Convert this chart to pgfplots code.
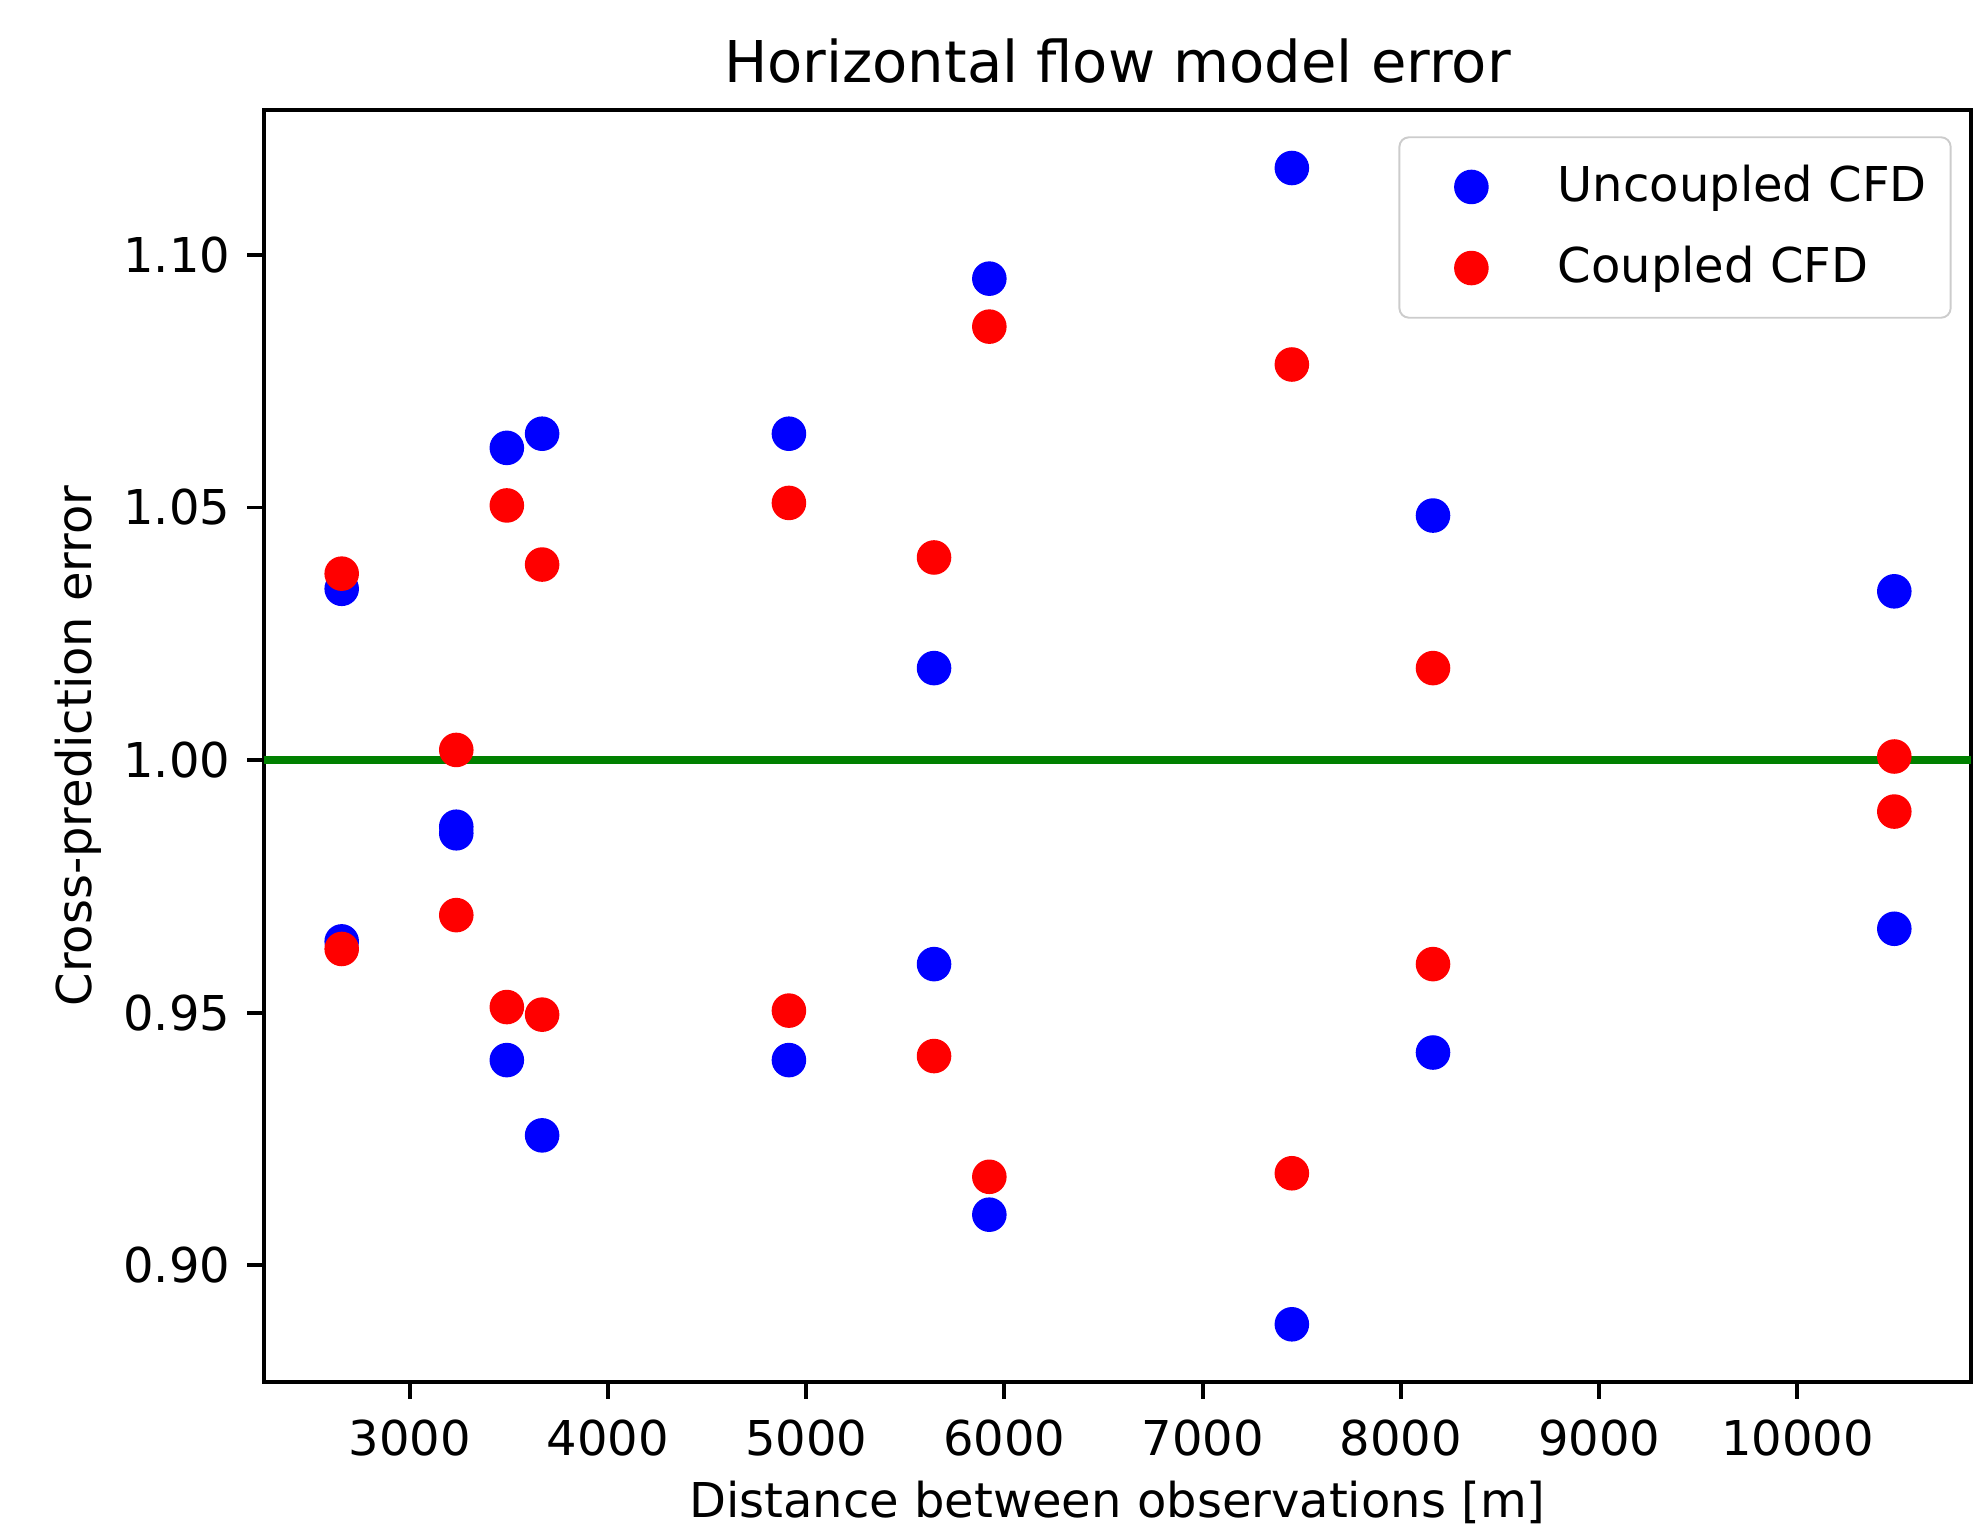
\documentclass[border=0pt]{standalone}
\usepackage{fontspec}
\setmainfont{DejaVu Sans}
\usepackage{pgfplots}
\pgfplotsset{compat=1.18}
\definecolor{mplgreen}{RGB}{0,128,0}
\begin{document}
\begin{tikzpicture}
\begin{axis}[
scale only axis,
width=355.6pt, height=265pt,
xmin=2265, xmax=10875,
ymin=0.8769, ymax=1.1287,
xtick={3000,4000,...,10000},
ytick={0.90,0.95,1.00,1.05,1.10},
scaled ticks=false,
/pgf/number format/assume math mode=true,
x tick label style={/pgf/number format/1000 sep={}, yshift=-0.9pt},
y tick label style={/pgf/number format/fixed, /pgf/number format/fixed zerofill,
  /pgf/number format/precision=2},
tick align=outside, tick pos=left,
major tick length=3.5pt,
every tick/.style={black, line width=0.8pt},
axis line style={line width=0.8pt},
tick label style={font=\fontsize{10}{12}\selectfont},
label style={font=\fontsize{10}{12}\selectfont},
every axis title shift=0pt,
title={Horizontal flow model error},
title style={font=\fontsize{12}{14}\selectfont,
  at={([yshift=5.8pt]axis description cs:0.5,1)}, anchor=base},
xlabel={Distance between observations [m]},
xlabel style={at={([yshift=-28.3pt]axis description cs:0.5,0)}, anchor=base},
ylabel={Cross-prediction error},
ylabel style={at={([xshift=-36pt]axis description cs:0,0.5)}, anchor=base},
legend cell align=left,
legend style={at={(axis description cs:1,1)}, anchor=north east,
  xshift=-4pt, yshift=-5.5pt, draw=black!20, rounded corners=2pt,
  font=\fontsize{10}{12}\selectfont, row sep=3.8pt, inner xsep=3pt, inner ysep=3.8pt},
legend image code/.code={\path[draw=none] (0pt,0pt) -- (28pt,0pt);
  \draw[only marks] plot coordinates {(12pt,0pt)};},
]
\addplot[only marks, mark=*, mark size=3.4pt, color=blue] coordinates {
(2657,1.0339)(2657,0.9641)(3235,0.9868)(3235,0.9855)(3490,1.0618)(3490,0.9406)
(3668,1.0646)(3668,0.9257)(4913,1.0646)(4913,0.9406)(5645,1.0182)(5645,0.9596)
(5924,1.0953)(5924,0.9100)(7450,1.1172)(7450,0.8883)(8162,1.0484)(8162,0.9421)
(10489,1.0334)(10489,0.9666)};
\addlegendentry{Uncoupled CFD}
\addplot[only marks, mark=*, mark size=3.4pt, color=red] coordinates {
(2657,1.0369)(2657,0.9626)(3235,1.0020)(3235,0.9693)(3490,1.0504)(3490,0.9511)
(3668,1.0387)(3668,0.9496)(4913,1.0509)(4913,0.9504)(5645,1.0401)(5645,0.9414)
(5924,1.0858)(5924,0.9175)(7450,1.0783)(7450,0.9182)(8162,1.0182)(8162,0.9596)
(10489,1.0007)(10489,0.9898)};
\addlegendentry{Coupled CFD}
\addplot[mplgreen, line width=1.5pt, forget plot] coordinates {(2265,1)(10875,1)};
\coordinate (SW) at (rel axis cs:0,0);
\coordinate (NE) at (rel axis cs:1,1);
\end{axis}
\pgfresetboundingbox
\path ([xshift=-55pt,yshift=-31.5pt]SW) rectangle ([xshift=1.5pt,yshift=22.9pt]NE);
\end{tikzpicture}
\end{document}
